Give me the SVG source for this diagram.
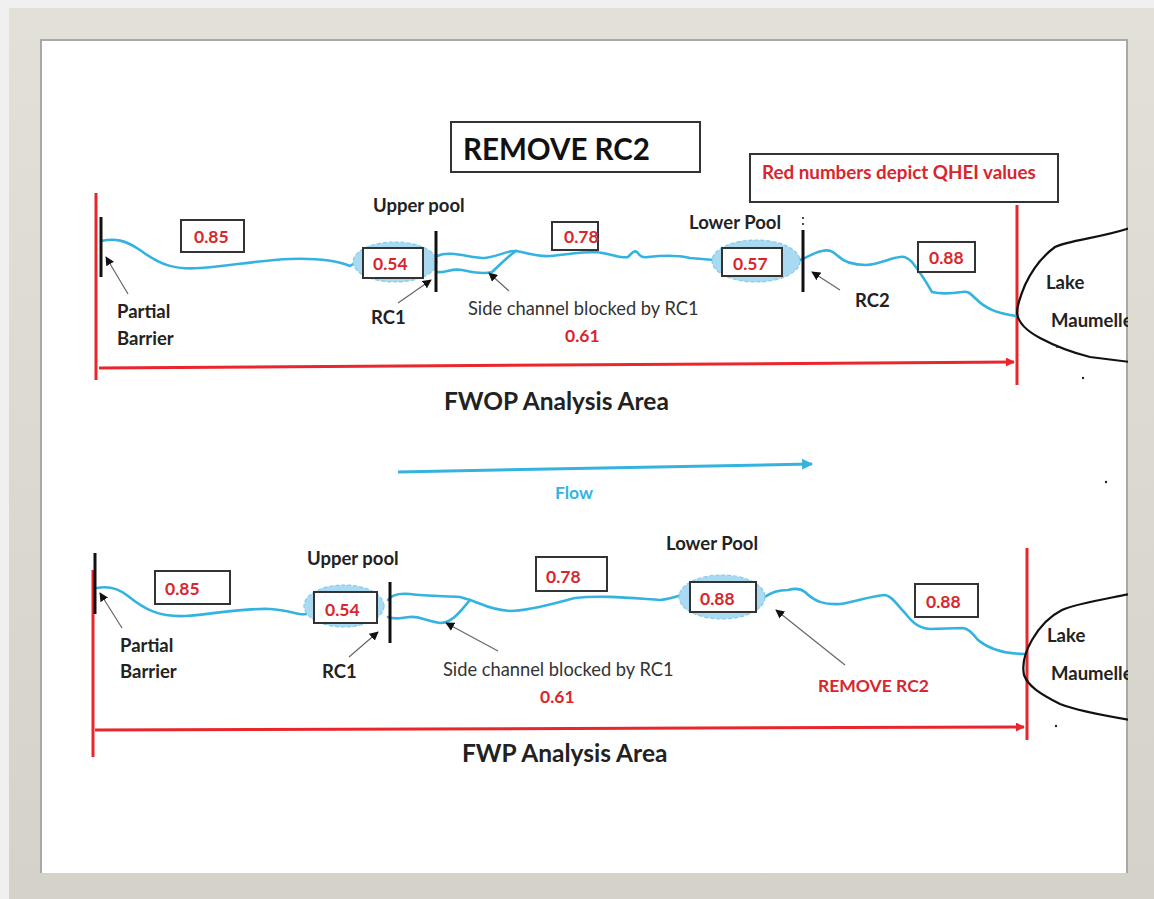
<svg xmlns="http://www.w3.org/2000/svg" width="1154" height="899" viewBox="0 0 1154 899">
<defs>
<style>
.lbl{font-family:Lato,"Open Sans","Liberation Sans",sans-serif;font-weight:bold;font-size:18.5px;fill:#222}
.num{font-family:Lato,"Open Sans","Liberation Sans",sans-serif;font-weight:bold;font-size:17.5px;fill:#d9262c}
.leg{font-size:18.8px}
.note{font-family:Lato,"Open Sans","Liberation Sans",sans-serif;font-size:18.3px;fill:#333}
.big{font-family:Lato,"Open Sans","Liberation Sans",sans-serif;font-weight:bold;font-size:24.5px;fill:#222}
.box{fill:#fff;stroke:#333;stroke-width:2}
.river{fill:none;stroke:#35b3e0;stroke-width:2.6;stroke-linejoin:round;stroke-linecap:round}
.pool{fill:#a9daf1;stroke:#86cbe9;stroke-width:1.2;stroke-dasharray:4 2}
.bar{stroke:#111;stroke-width:3}
.ptr{stroke:#666;stroke-width:1.2;fill:none;marker-end:url(#ah)}
.red{stroke:#e8262b;stroke-width:3;fill:none}
.lake{fill:none;stroke:#111;stroke-width:2.2;stroke-linejoin:round}
</style>
<marker id="ah" viewBox="0 0 10 10" refX="9" refY="5" markerWidth="9" markerHeight="9" markerUnits="userSpaceOnUse" orient="auto"><path d="M0,0 L10,5 L0,10 z" fill="#111"/></marker>
<marker id="rah" viewBox="0 0 10 10" refX="9" refY="5" markerWidth="9" markerHeight="9" markerUnits="userSpaceOnUse" orient="auto"><path d="M0,0 L10,5 L0,10 z" fill="#e8262b"/></marker>
<marker id="bah" viewBox="0 0 10 10" refX="9" refY="5" markerWidth="11" markerHeight="11" markerUnits="userSpaceOnUse" orient="auto"><path d="M0,0 L10,5 L0,10 z" fill="#35b3e0"/></marker>
<linearGradient id="fr" x1="0" y1="0" x2="0" y2="1"><stop offset="0" stop-color="#e3e0d8"/><stop offset="1" stop-color="#d5d2ca"/></linearGradient>
<clipPath id="inner"><rect x="40" y="39" width="1088" height="834"/></clipPath>
</defs>
<rect width="1154" height="899" fill="#f0f0f0"/>
<rect x="9" y="8" width="1145" height="891" fill="url(#fr)"/>
<rect x="40" y="39" width="1088" height="834" fill="#fff"/>
<path d="M41,873 L41,40 L1127,40 L1127,873" fill="none" stroke="#a8a8a8" stroke-width="2"/>

<g clip-path="url(#inner)">
<!-- TOP DIAGRAM -->
<g id="title"><rect class="box" x="451" y="122" width="249" height="50"/><text x="463" y="160" font-family="Lato,'Open Sans','Liberation Sans',sans-serif" font-weight="bold" font-size="29.5" fill="#111">REMOVE RC2</text></g>
<g id="legend"><rect class="box" x="750" y="154" width="308" height="48"/><text class="num leg" x="762" y="179">Red numbers depict QHEI values</text></g>

<g id="top-bounds">
<line class="red" x1="96" y1="193" x2="96" y2="380"/>
<line class="red" x1="1017" y1="205" x2="1017" y2="385"/>
</g>

<g id="top-river">
<path class="river" d="M101,241 C115,238 125,240 140,250 C160,265 175,270 200,268 C230,266 260,260 290,259 C320,258 340,262 350,266 L360,260"/>
<path class="river" d="M437,256 C450,250 470,258 485,258 C500,256 508,250 516,251"/>
<path class="river" d="M437,272 C445,273 452,268 462,270 C475,273 485,274 492,272 C500,265 508,256 516,251"/>
<path class="river" d="M516,251 C525,252 535,257 550,256 C570,254 580,252 595,252 C610,253 620,259 628,257 C632,253 634,250 637,252 C640,256 642,258 648,257 C665,255 678,255 690,258 L714,260"/>
<path class="river" d="M800,260 C810,256 815,252 822,251 C830,249 833,252 838,256 C845,263 855,265 866,265 C880,264 890,258 900,257 C905,256 908,258 912,262 C920,272 928,285 932,292 C940,294 955,293 962,292 C968,291 970,293 975,298 C985,308 995,313 1016,316"/>
</g>

<g id="top-upper-pool"><ellipse class="pool" cx="395" cy="262" rx="42" ry="20"/><rect class="box" x="363" y="248" width="60" height="30"/><text class="num" x="373" y="270">0.54</text><text class="lbl" x="373" y="212">Upper pool</text></g>
<g id="top-lower-pool"><ellipse class="pool" cx="756" cy="261" rx="44" ry="21"/><rect class="box" x="722" y="248" width="60" height="28"/><text class="num" x="733" y="270">0.57</text><text class="lbl" x="689" y="229">Lower Pool</text></g>
<g id="top-085"><rect class="box" x="181" y="220" width="63" height="32"/><text class="num" x="194" y="243">0.85</text></g>
<g id="top-078"><rect class="box" x="552" y="222" width="46" height="28"/><text class="num" x="564" y="243">0.78</text></g>
<g id="top-088"><rect class="box" x="918" y="242" width="57" height="30"/><text class="num" x="929" y="264">0.88</text></g>

<g id="top-barrier"><line class="bar" x1="101" y1="217" x2="101" y2="277"/><text class="lbl" x="117" y="318">Partial</text><text class="lbl" x="117" y="345">Barrier</text></g>
<g id="top-rc1"><line class="bar" x1="436" y1="231" x2="436" y2="292"/><text class="lbl" x="371" y="324">RC1</text></g>
<g id="top-rc2"><line class="bar" x1="803" y1="230" x2="803" y2="292"/><circle cx="803" cy="218" r="1.1" fill="#222"/><circle cx="803" cy="224" r="1.1" fill="#222"/><text class="lbl" x="855" y="307">RC2</text></g>
<g id="top-side"><text class="note" x="468" y="315">Side channel blocked by RC1</text><text class="num" x="565" y="342">0.61</text></g>
<g id="top-lake"><path class="lake" d="M1130,228 C1100,238 1070,240 1055,247 C1040,258 1032,270 1025,285 C1020,297 1017,305 1017,313 C1018,322 1025,330 1040,338 C1055,346 1070,352 1090,357 L1130,362"/><text class="lbl" x="1046" y="289">Lake</text><text class="lbl" x="1051" y="327">Maumelle</text><circle cx="1057" cy="347" r="1" fill="#222"/><circle cx="1083" cy="378" r="1.2" fill="#222"/></g>
<g id="fwop"><text class="big" x="444" y="410">FWOP Analysis Area</text></g>

<!-- FLOW -->
<g id="flow"><line x1="398" y1="472" x2="812" y2="464" stroke="#35b3e0" stroke-width="3" marker-end="url(#bah)"/><text x="555" y="499" font-family="Lato,'Open Sans','Liberation Sans',sans-serif" font-weight="bold" font-size="17.5" fill="#35b3e0">Flow</text></g>
<circle cx="1106" cy="482" r="1.2" fill="#222"/>

<!-- BOTTOM DIAGRAM -->
<g id="bottom-bounds">
<line class="red" x1="93" y1="570" x2="93" y2="757"/>
<line class="red" x1="1027" y1="548" x2="1027" y2="740"/>
</g>
<g id="bottom-river">
<path class="river" d="M97,588 C108,586 118,588 128,596 C145,610 160,617 185,616 C215,614 240,608 270,609 C290,610 300,616 306,614"/>
<path class="river" d="M388,600 C392,594 400,593 410,594 C425,596 440,596 460,597 L470,600"/>
<path class="river" d="M388,617 C395,620 400,618 410,617 C420,616 425,621 440,623 C452,623 460,612 470,600"/>
<path class="river" d="M470,600 C480,603 490,610 510,611 C530,611 555,603 575,598 C600,595 630,598 660,600 C670,599 678,596 684,594"/>
<path class="river" d="M763,598 C772,592 778,590 788,590 C795,588 800,588 805,592 C815,602 825,605 840,604 C855,602 870,596 885,595 C892,596 897,605 905,613 C912,622 918,628 930,629 L962,628 C968,628 972,633 978,640 C990,650 1005,654 1025,654"/>
</g>
<g id="bottom-upper-pool"><ellipse class="pool" cx="344" cy="606" rx="40" ry="21"/><rect class="box" x="314" y="592" width="63" height="31"/><text class="num" x="325" y="616">0.54</text><text class="lbl" x="307" y="565">Upper pool</text></g>
<g id="bottom-lower-pool"><ellipse class="pool" cx="722" cy="597" rx="43" ry="22"/><rect class="box" x="690" y="582" width="66" height="30"/><text class="num" x="700" y="605">0.88</text><text class="lbl" x="666" y="550">Lower Pool</text></g>
<g id="bottom-085"><rect class="box" x="155" y="571" width="75" height="33"/><text class="num" x="165" y="595">0.85</text></g>
<g id="bottom-078"><rect class="box" x="536" y="557" width="71" height="34"/><text class="num" x="546" y="583">0.78</text></g>
<g id="bottom-088"><rect class="box" x="915" y="584" width="63" height="33"/><text class="num" x="926" y="608">0.88</text></g>
<g id="bottom-barrier"><line class="bar" x1="95" y1="553" x2="95" y2="614"/><text class="lbl" x="120" y="652">Partial</text><text class="lbl" x="120" y="678">Barrier</text></g>
<g id="bottom-rc1"><line class="bar" x1="390" y1="582" x2="390" y2="643"/><text class="lbl" x="322" y="678">RC1</text></g>
<g id="bottom-side"><text class="note" x="443" y="676">Side channel blocked by RC1</text><text class="num" x="540" y="703">0.61</text></g>
<g id="bottom-remove"><text class="num" x="818" y="692">REMOVE RC2</text></g>
<g id="bottom-lake"><path class="lake" d="M1130,594 C1100,600 1075,604 1062,610 C1050,616 1040,626 1032,640 C1025,652 1022,665 1024,675 C1028,686 1040,694 1060,704 C1075,710 1095,714 1130,720"/><text class="lbl" x="1047" y="642">Lake</text><text class="lbl" x="1051" y="680">Maumelle</text><circle cx="1056" cy="726" r="1.2" fill="#222"/></g>
<g id="fwp"><text class="big" x="462" y="762">FWP Analysis Area</text></g>

<g id="connectors">
<line class="red" x1="99" y1="368" x2="1014" y2="362" marker-end="url(#rah)"/>
<line class="red" x1="95" y1="730" x2="1024" y2="727" marker-end="url(#rah)"/>
<line class="ptr" x1="128" y1="294" x2="106" y2="257"/>
<line class="ptr" x1="398" y1="303" x2="431" y2="280"/>
<line class="ptr" x1="509" y1="291" x2="489" y2="273"/>
<line class="ptr" x1="840" y1="290" x2="812" y2="272"/>
<line class="ptr" x1="122" y1="628" x2="100" y2="593"/>
<line class="ptr" x1="349" y1="657" x2="378" y2="632"/>
<line class="ptr" x1="498" y1="651" x2="446" y2="623"/>
<line class="ptr" x1="845" y1="665" x2="776" y2="610"/>
</g>
</g>
</svg>
